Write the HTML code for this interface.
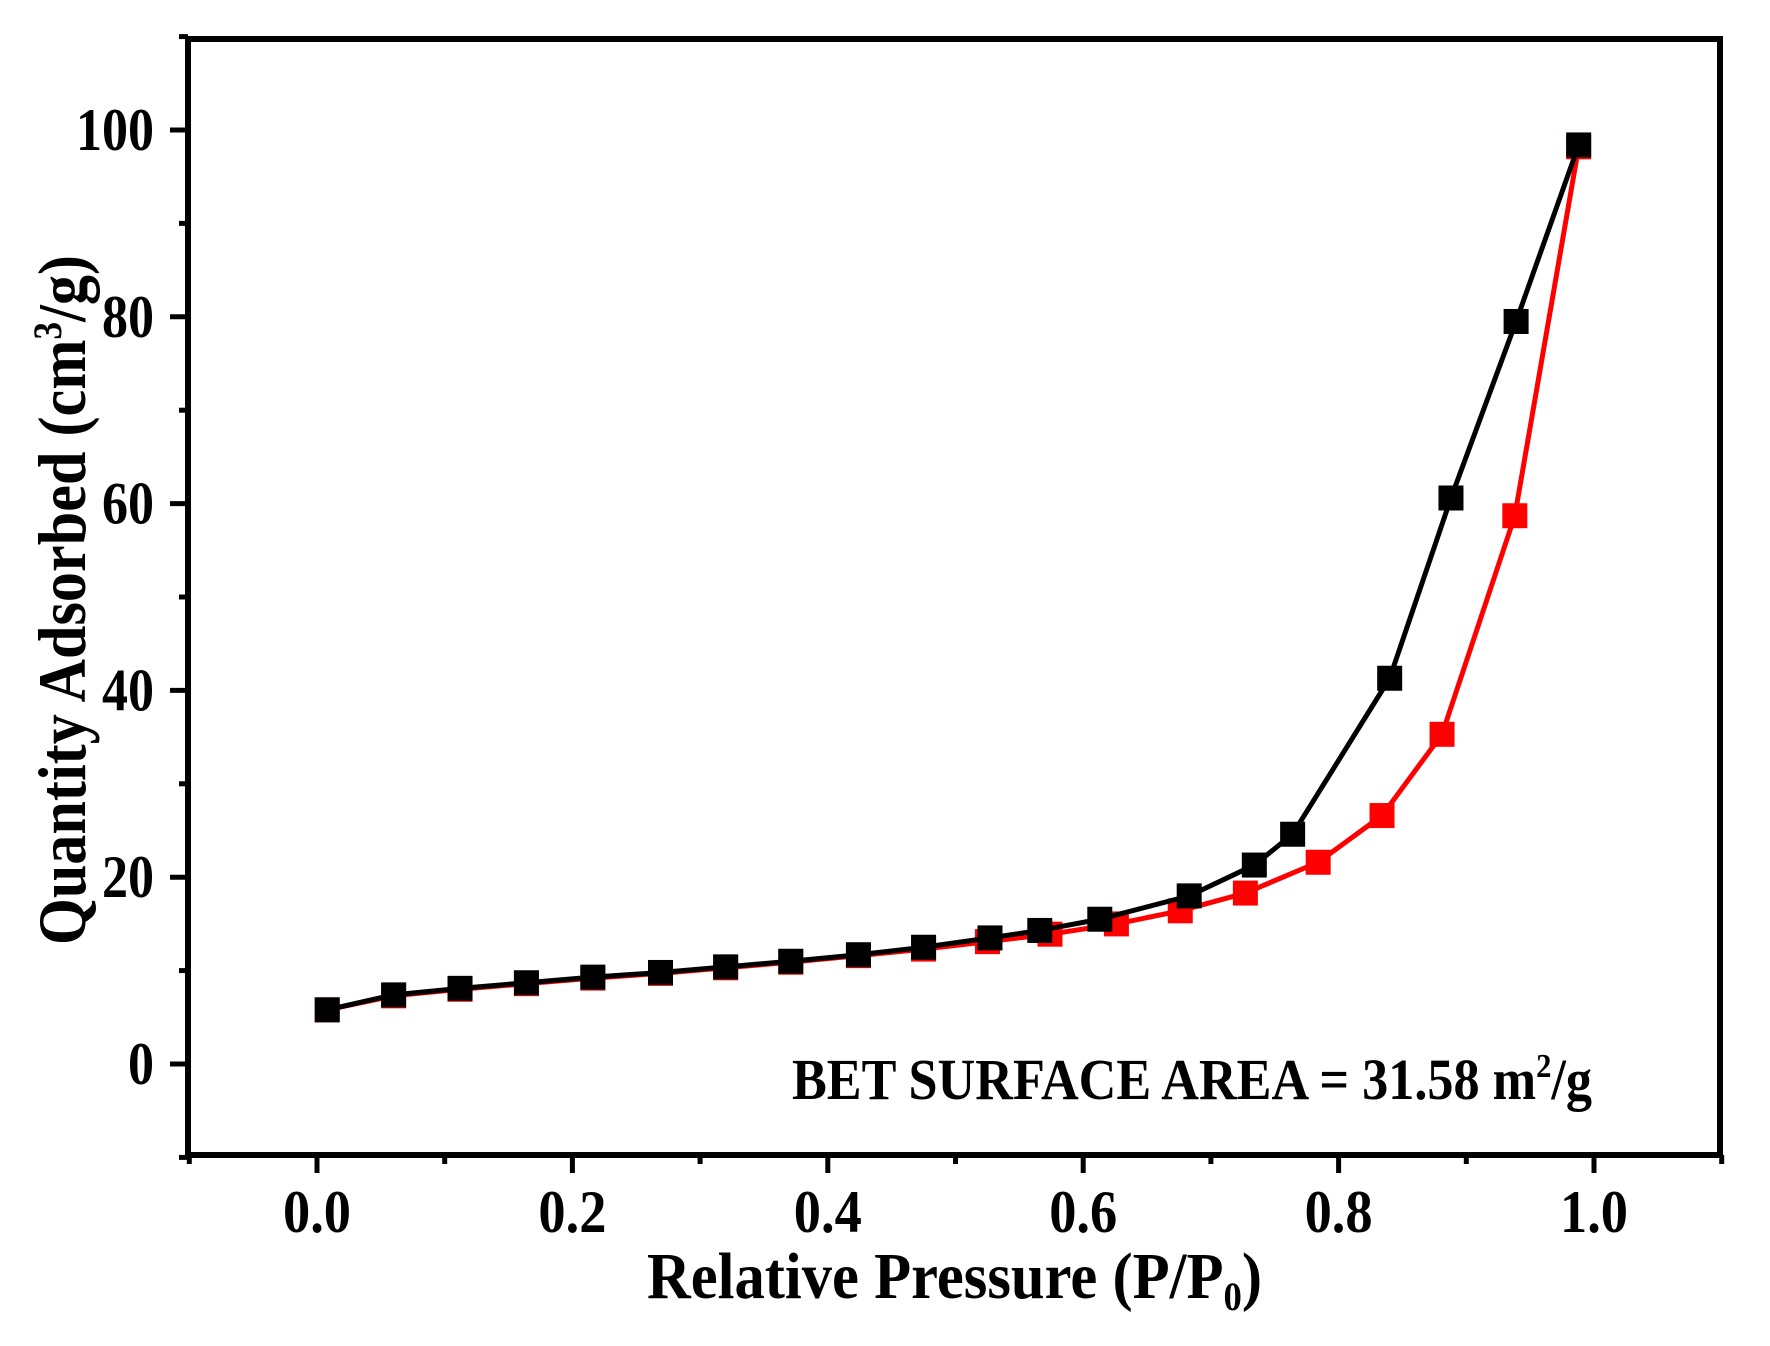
<!DOCTYPE html>
<html><head><meta charset="utf-8"><style>
html,body{margin:0;padding:0;background:#fff;}
svg{display:block;font-family:"Liberation Serif",serif;font-weight:bold;}
</style></head><body>
<svg id="chart" width="1770" height="1346" viewBox="0 0 1770 1346" xmlns="http://www.w3.org/2000/svg">
<g id="marks"></g>
<g id="axes"></g>
<text x="792" y="1099" font-size="58" textLength="800" lengthAdjust="spacingAndGlyphs">BET SURFACE AREA = 31.58 m<tspan font-size="34" dy="-22">2</tspan><tspan dy="22">/g</tspan></text>
<text x="647" y="1298" font-size="66" textLength="615" lengthAdjust="spacingAndGlyphs">Relative Pressure (P/P<tspan font-size="40" dy="12">0</tspan><tspan dy="-12">)</tspan></text>
<text transform="translate(85,945) rotate(-90)" x="0" y="0" font-size="68" textLength="690" lengthAdjust="spacingAndGlyphs">Quantity Adsorbed (cm<tspan font-size="40" dy="-24">3</tspan><tspan dy="24">/g)</tspan></text>
</svg>
<script>
const adsX=[0.008,0.060,0.112,0.164,0.216,0.269,0.320,0.371,0.424,0.475,0.525,0.574,0.626,0.676,0.727,0.784,0.834,0.881,0.938,0.988];
const adsY=[5.8,7.3,8.0,8.6,9.2,9.7,10.3,10.9,11.6,12.3,13.1,13.9,15.0,16.4,18.3,21.6,26.6,35.3,58.7,98.2];
const desX=[0.008,0.060,0.112,0.164,0.216,0.269,0.320,0.371,0.424,0.475,0.527,0.566,0.613,0.683,0.734,0.764,0.840,0.888,0.939,0.988];
const desY=[5.8,7.4,8.1,8.7,9.3,9.8,10.4,11.0,11.7,12.5,13.5,14.3,15.5,18.0,21.3,24.6,41.3,60.6,79.5,98.4];
const xTicks=[0.0,0.2,0.4,0.6,0.8,1.0];
const xTickLabels=["0.0","0.2","0.4","0.6","0.8","1.0"];
const yTicks=[0,20,40,60,80,100];
const yTickLabels=["0","20","40","60","80","100"];
const xDomain=[-0.1,1.1], yDomain=[-10,110];
const L=188,R=1720,T=39,B=1155;
const X=v=>317+(v-0)*1277;
const Y=v=>1064-v*9.34;
const NS="http://www.w3.org/2000/svg";
function mk(tag,attrs,parent){const e=document.createElementNS(NS,tag);for(const k in attrs)e.setAttribute(k,attrs[k]);parent.appendChild(e);return e;}
const marks=document.getElementById('marks'), axes=document.getElementById('axes');
function series(xs,ys,color,name){
  const pts=xs.map((x,i)=>X(x)+','+Y(ys[i])).join(' ');
  const pl=mk('polyline',{points:pts,fill:'none',stroke:color,'stroke-width':5,'stroke-linejoin':'round'},marks);
  
  
  xs.forEach((x,i)=>{
    const r=mk('rect',{x:X(x)-12.5,y:Y(ys[i])-12.5,width:25,height:25,fill:color},marks);
    
    
  });
}
series(adsX,adsY,'#ff0000','adsorption');
series(desX,desY,'#000000','desorption');
const fr=mk('rect',{x:L,y:T,width:R-L,height:B-T,fill:'none',stroke:'#000','stroke-width':6},axes);


for(let v=-0.1;v<=1.1001;v+=0.1){
  const vv=Math.round(v*10)/10;
  const major=xTicks.some(t=>Math.abs(t-vv)<1e-6);
  const t=mk('line',{x1:X(vv),x2:X(vv),y1:B,y2:B+(major?18:9),stroke:'#000','stroke-width':5},axes);
  
  
}
xTicks.forEach((v,i)=>{
  const t=mk('text',{x:X(v),y:1232,'font-size':60,'text-anchor':'middle',textLength:68,lengthAdjust:'spacingAndGlyphs'},axes);
  t.textContent=xTickLabels[i];
  
  
});
for(let v=-10;v<=110;v+=10){
  const major=yTicks.includes(v);
  const t=mk('line',{x1:L,x2:L-(major?18:9),y1:Y(v),y2:Y(v),stroke:'#000','stroke-width':5},axes);
  
  
}
yTicks.forEach((v,i)=>{
  const lab=yTickLabels[i];
  const t=mk('text',{x:154,y:Y(v)+20,'font-size':60,'text-anchor':'end',textLength:lab.length*26,lengthAdjust:'spacingAndGlyphs'},axes);
  t.textContent=lab;
  
  
});
</script>
</body></html>
